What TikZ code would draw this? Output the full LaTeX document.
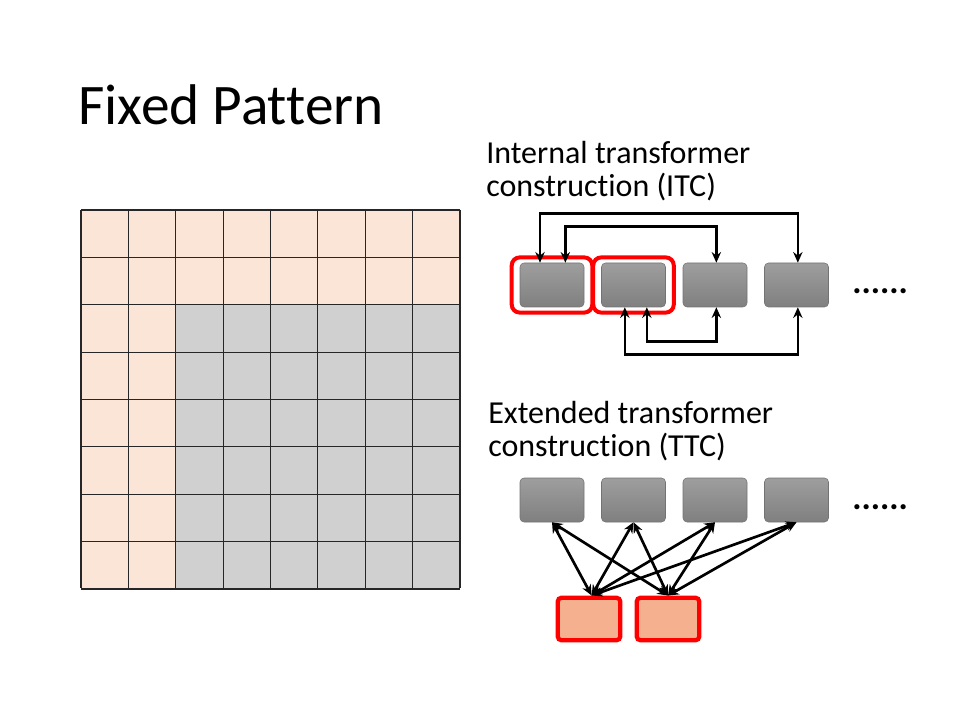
\documentclass[tikz,border=0pt]{standalone}
\usepackage{fontspec}
\setmainfont{Carlito}[Ligatures=NoCommon]
\usetikzlibrary{arrows.meta, fit}

\definecolor{peach}{HTML}{FBE5D6}
\definecolor{cellgrey}{HTML}{D0D0D0}
\definecolor{salmon}{HTML}{F4B08F}

\begin{document}
\begin{tikzpicture}[x=0.75pt, y=-0.75pt,
  block/.style={rounded corners=3pt, draw=black!55, top color=black!38, bottom color=black!50, minimum width=48pt, minimum height=33pt, inner sep=0pt},
  pick/.style={rounded corners=3pt, draw=red, line width=3.2pt, fill=salmon, minimum width=47pt, minimum height=32pt, inner sep=0pt},
  redframe/.style={rounded corners=6pt, draw=red, line width=3pt, inner xsep=6pt, inner ysep=4pt},
  biarr/.style={line width=2pt, {Stealth[length=8pt,width=7pt]}-{Stealth[length=8pt,width=7pt]}},
  label/.style={anchor=north west, inner sep=0pt, align=left, font=\fontsize{24}{24.75}\selectfont}]
\useasboundingbox (0,0) rectangle (960,720);

\node[anchor=base west, inner sep=0pt, font=\fontsize{43}{52}\selectfont] (title) at (78,125) {Fixed Pattern};

\def\cs{47.375}
\fill[peach] (81,210) rectangle (460,588);
\fill[cellgrey] (81+2*\cs,210+2*\cs) rectangle (460,588);
\foreach \i in {0,...,8} {
  \draw[black!85, line width=0.8pt] (81+\i*\cs,210) -- (81+\i*\cs,588);
  \draw[black!85, line width=0.8pt] (81,210+\i*\cs) -- (460,210+\i*\cs);
}

\node[label] (itc) at (486,141) {Internal transformer\\construction (ITC)};
\foreach \n/\x in {1/552, 2/633.5, 3/715, 4/796.5}
  \node[block] (i\n) at (\x,285) {};
\node[anchor=base west, inner sep=0pt, font=\fontsize{26}{28}\bfseries] (idots) at (852,294) {......};
\node[redframe, fit=(i1)] (f1) {};
\node[redframe, fit=(i2)] (f2) {};

\draw[biarr] ([xshift=-9pt]i1.north) -- ++(0,-49) -| ([xshift=1pt]i4.north);
\draw[biarr] ([xshift=10pt]i1.north) -- ++(0,-36) -| ([xshift=1pt]i3.north);
\draw[biarr] ([xshift=10pt]i2.south) -- ++(0,34) -| ([xshift=1pt]i3.south);
\draw[biarr] ([xshift=-6.5pt]i2.south) -- ++(0,47) -| ([xshift=1pt]i4.south);

\node[label] (ttc) at (488,401) {Extended transformer\\construction (TTC)};
\foreach \n/\x in {1/552, 2/633.5, 3/715, 4/796.5}
  \node[block] (t\n) at (\x,500) {};
\node[anchor=base west, inner sep=0pt, font=\fontsize{26}{28}\bfseries] (tdots) at (852,509) {......};
\node[pick] (a) at (589,619) {};
\node[pick] (b) at (668,619) {};

\foreach \n in {1,...,4} {
  \draw[biarr] (t\n.south) -- ([xshift=2pt]a.north);
  \draw[biarr] (t\n.south) -- (b.north);
}
\end{tikzpicture}
\end{document}
